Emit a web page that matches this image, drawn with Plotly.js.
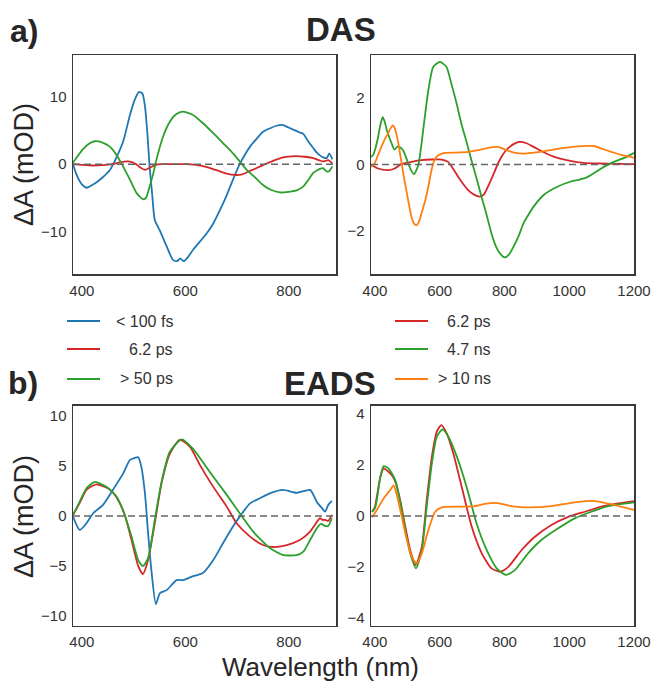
<!DOCTYPE html>
<html>
<head>
<meta charset="utf-8">
<script src="https://cdn.plot.ly/plotly-3.0.1.min.js"></script>
<style>html,body{margin:0;padding:0;background:#fff;}#plot{width:651px;height:685px;}</style>
</head>
<body>
<div id="plot"></div>
<script>
// ---------- DATA ----------
// DAS, left panel
const dasBlueX = [383,390,400,410,420,430,441,454,467,480,493,502,510,517,522,527,531,536,541,551,564,576,584,590,597,605,615,628,641,654,667,680,692,705,715,725,738,750,763,776,789,800,810,821,828,834,840,847,853,860,866,873,878,884];
const dasBlueY = [0,-1.6,-3.0,-3.5,-3.1,-2.6,-1.9,-0.9,1.0,3.4,7.3,9.5,10.7,10.5,8.6,4.2,-0.4,-4.5,-8.3,-9.9,-12.2,-14.2,-14.4,-14.0,-14.4,-13.8,-12.7,-11.5,-10.3,-8.8,-6.8,-4.6,-2.3,0,1.4,2.6,3.8,4.8,5.3,5.7,5.8,5.4,5.1,4.7,4.5,3.8,3.1,2.4,1.8,1.3,1.0,0.9,1.6,0.7];
const dasRedLX = [383,400,420,440,460,475,490,503,513,522,532,545,560,580,600,620,640,660,680,695,710,725,740,757,773,789,805,815,830,847,858,866,876,884];
const dasRedLY = [0,-0.1,-0.2,-0.15,0,0.3,0.4,0.1,-0.5,-0.85,-0.5,-0.05,0,0,0,-0.1,-0.4,-0.9,-1.4,-1.6,-1.5,-1.0,-0.5,0.1,0.6,1.0,1.15,1.2,1.1,0.9,0.6,0.4,0.6,0.1];
const dasGreenLX = [383,392,402,413,425,440,454,465,473,483,493,506,518,524,531,538,544,557,570,582,595,615,635,654,673,692,705,718,735,750,765,783,800,815,828,838,847,855,860,866,873,878,884];
const dasGreenLY = [0.2,1.2,2.2,3.0,3.4,3.2,2.6,1.6,0.6,-0.8,-2.3,-4.3,-5.2,-5.0,-3.3,-1.4,0.6,4.1,6.3,7.4,7.8,7.3,6.0,4.6,3.1,1.6,0.4,-0.8,-2.0,-3.1,-3.8,-4.2,-4.1,-3.9,-3.3,-2.3,-1.3,-0.9,-0.7,-0.6,-1.1,-1.0,-0.35];
// DAS, right panel
const dasRedRX = [387,410,440,461,481,513,544,575,606,626,641,657,672,688,705,724,737,749,765,780,792,805,816,831,847,868,890,915,941,967,992,1043,1095,1150,1200];
const dasRedRY = [0,-0.12,-0.17,-0.12,0.01,0.08,0.13,0.15,0.15,0.08,-0.12,-0.37,-0.58,-0.77,-0.9,-0.97,-0.9,-0.67,-0.32,0.03,0.25,0.43,0.53,0.63,0.68,0.64,0.53,0.4,0.28,0.19,0.13,0.05,0.03,0.02,0.01];
const dasGreenRX = [387,394,402,410,417,424,430,437,445,452,460,472,487,503,513,521,534,544,554,565,580,601,621,636,652,667,683,698,714,729,745,760,773,786,801,815,828,844,859,875,890,921,963,1003,1030,1054,1075,1095,1136,1177,1200];
const dasGreenRY = [0.23,0.28,0.5,0.83,1.2,1.43,1.3,1.03,0.8,0.63,0.45,0.55,0.43,0.03,-0.2,-0.29,-0.02,0.63,1.43,2.23,2.94,3.09,2.94,2.44,1.85,1.23,0.68,0.13,-0.42,-0.97,-1.52,-2.08,-2.45,-2.68,-2.8,-2.7,-2.48,-2.15,-1.77,-1.5,-1.27,-0.92,-0.67,-0.52,-0.46,-0.39,-0.27,-0.14,0.07,0.23,0.35];
const dasOrangeX = [387,399,410,420,430,440,448,455,460,466,473,481,489,497,505,513,521,529,537,544,555,565,572,580,588,596,616,650,688,719,750,776,790,807,830,859,885,910,950,992,1054,1080,1105,1130,1156,1180,1200];
const dasOrangeY = [-0.07,0.03,0.3,0.53,0.75,0.93,1.08,1.18,1.12,0.93,0.6,0.13,-0.35,-0.77,-1.2,-1.58,-1.78,-1.83,-1.7,-1.47,-1.1,-0.67,-0.3,0.03,0.2,0.28,0.35,0.36,0.38,0.43,0.5,0.53,0.5,0.43,0.36,0.33,0.35,0.38,0.45,0.51,0.56,0.55,0.46,0.38,0.3,0.25,0.2];
// EADS, left panel
const eadsBlueX = [383,396,409,422,441,460,480,493,503,509,515,522,528,535,543,551,564,583,596,615,634,654,673,692,705,725,744,763,789,815,841,854,862,870,876,883];
const eadsBlueY = [-0.07,-1.4,-0.73,0.27,1.1,2.6,4.25,5.6,5.8,5.85,4.9,2.26,-1.7,-5.7,-8.8,-7.7,-7.4,-6.4,-6.4,-6.0,-5.7,-4.4,-2.7,-1.06,-0.07,1.26,1.76,2.26,2.6,2.3,2.6,1.4,0.9,0.43,1.1,1.5];
const eadsRedLX = [383,396,409,428,454,470,483,496,509,518,528,541,554,570,589,609,628,654,680,699,725,750,770,796,821,841,850,860,865,870,876,883];
const eadsRedLY = [0.1,1.3,2.6,3.15,2.65,1.6,0.1,-2.4,-5.0,-5.8,-4.4,-0.7,3.26,6.2,7.6,6.9,5.1,2.9,0.93,-0.73,-2.06,-2.9,-3.1,-2.9,-2.4,-1.56,-0.9,-0.23,-0.4,-0.4,-0.5,0.1];
const eadsGreenLX = [383,396,409,425,448,467,483,496,509,518,528,541,554,570,593,615,647,680,705,731,763,789,815,828,841,854,862,870,876,883];
const eadsGreenLY = [0.1,1.43,2.76,3.4,2.9,1.93,0.1,-2.06,-4.4,-5.0,-4.2,-0.4,3.4,6.4,7.65,6.7,4.4,2.1,0.27,-1.56,-3.2,-3.9,-3.9,-3.55,-2.4,-1.23,-0.8,-1.0,-1.0,-0.23];
// EADS, right panel
const eadsRedRX = [391,400,406,417,427,442,455,463,478,494,509,526,545,560,576,591,605,622,642,668,699,730,760,786,812,853,894,945,997,1048,1099,1151,1200];
const eadsRedRY = [0.17,0.35,0.76,1.54,1.87,1.74,1.55,1.35,0.63,-0.42,-1.33,-1.92,-1.2,0.63,2.33,3.3,3.57,3.24,2.46,1.15,-0.42,-1.46,-2.05,-2.18,-1.99,-1.33,-0.81,-0.35,-0.03,0.17,0.37,0.5,0.59];
const eadsGreenRX = [391,400,406,417,427,442,463,478,494,509,527,545,560,576,591,609,627,653,683,714,745,776,804,832,873,914,966,1017,1068,1120,1200];
const eadsGreenRY = [0.17,0.3,0.63,1.54,1.96,1.87,1.41,0.56,-0.55,-1.46,-2.05,-1.33,0.37,2.07,3.11,3.4,3.11,2.33,1.15,-0.29,-1.33,-2.05,-2.31,-2.12,-1.46,-0.94,-0.48,-0.09,0.17,0.39,0.54];
const eadsOrangeX = [391,406,427,447,458,468,483,499,514,529,545,565,586,606,668,709,740,771,795,822,873,945,1017,1079,1141,1200];
const eadsOrangeY = [-0.05,0.24,0.69,1.02,1.2,0.82,-0.03,-0.94,-1.6,-1.86,-1.46,-0.55,0.17,0.34,0.37,0.39,0.48,0.52,0.47,0.39,0.34,0.39,0.54,0.59,0.43,0.24];

const legendLeft = ['< 100 fs', '6.2 ps', '> 50 ps'];
const legendRight = ['6.2 ps', '4.7 ns', '> 10 ns'];
const xTicksLeft = [400, 600, 800];
const xTicksRight = [400, 600, 800, 1000, 1200];

// ---------- STYLE ----------
const C = {blue:'#1f77b4', orange:'#ff7f0e', green:'#2ca02c', red:'#d62728'};
const W = 651, H = 685;
const FONT = 'Liberation Sans, Arial, Helvetica, sans-serif';
const px = v => v / W;
const py = v => 1 - v / H;

function tr(x, y, color, xa, ya, name) {
  return {x: x, y: y, type: 'scatter', mode: 'lines', name: name,
    line: {color: color, width: 1.8, shape: 'spline', smoothing: 0.6},
    xaxis: xa, yaxis: ya, showlegend: false, hoverinfo: 'skip'};
}

const data = [
  tr(dasBlueX, dasBlueY, C.blue, 'x', 'y', '< 100 fs'),
  tr(dasRedLX, dasRedLY, C.red, 'x', 'y', '6.2 ps'),
  tr(dasGreenLX, dasGreenLY, C.green, 'x', 'y', '> 50 ps'),
  tr(dasRedRX, dasRedRY, C.red, 'x2', 'y2', '6.2 ps'),
  tr(dasGreenRX, dasGreenRY, C.green, 'x2', 'y2', '4.7 ns'),
  tr(dasOrangeX, dasOrangeY, C.orange, 'x2', 'y2', '> 10 ns'),
  tr(eadsBlueX, eadsBlueY, C.blue, 'x3', 'y3', '< 100 fs'),
  tr(eadsRedLX, eadsRedLY, C.red, 'x3', 'y3', '6.2 ps'),
  tr(eadsGreenLX, eadsGreenLY, C.green, 'x3', 'y3', '> 50 ps'),
  tr(eadsRedRX, eadsRedRY, C.red, 'x4', 'y4', '6.2 ps'),
  tr(eadsGreenRX, eadsGreenRY, C.green, 'x4', 'y4', '4.7 ns'),
  tr(eadsOrangeX, eadsOrangeY, C.orange, 'x4', 'y4', '> 10 ns')
];

function ax(domain, range, tickvals, anchor) {
  return {domain: domain, range: range, tickvals: tickvals, anchor: anchor,
    showline: true, mirror: true, linecolor: '#3a3a3a', linewidth: 1.5,
    showgrid: false, zeroline: false, ticks: '', ticklabelstandoff: 2,
    tickfont: {family: FONT, size: 15, color: '#333'}};
}

const dxL = [px(73), px(336)], dxR = [px(371), px(634)];
const dyT = [py(274), py(55)], dyB = [py(625.7), py(405.7)];

const layout = {
  width: W, height: H,
  margin: {l: 0, r: 0, t: 0, b: 0},
  paper_bgcolor: '#fff', plot_bgcolor: '#fff',
  showlegend: false,
  xaxis: ax(dxL, [383, 891], xTicksLeft, 'y'),
  yaxis: ax(dyT, [-16.3, 16.2], [-10, 0, 10], 'x'),
  xaxis2: ax(dxR, [388, 1200], xTicksRight, 'y2'),
  yaxis2: ax(dyT, [-3.3, 3.3], [-2, 0, 2], 'x2'),
  xaxis3: ax(dxL, [383, 891], xTicksLeft, 'y3'),
  yaxis3: ax(dyB, [-10.95, 11], [-10, -5, 0, 5, 10], 'x3'),
  xaxis4: ax(dxR, [388, 1200], xTicksRight, 'y4'),
  yaxis4: ax(dyB, [-4.3, 4.33], [-4, -2, 0, 2, 4], 'x4'),
  shapes: [],
  annotations: []
};

// zero lines
[['x','y'],['x2','y2'],['x3','y3'],['x4','y4']].forEach(function(p){
  layout.shapes.push({type:'line', xref: p[0] + ' domain', yref: p[1], x0: 0, x1: 1, y0: 0, y1: 0,
    line: {color: '#666', width: 1.5, dash: '7px,4px'}, layer: 'above'});
});

// legend entries (drawn as lines + text)
const legColL = [C.blue, C.red, C.green];
const legColR = [C.red, C.green, C.orange];
const legY = [321, 349, 379];
legY.forEach(function(yv, i){
  layout.shapes.push({type:'line', xref:'paper', yref:'paper', x0: px(67), x1: px(100), y0: py(yv), y1: py(yv),
    line: {color: legColL[i], width: 1.8}});
  layout.shapes.push({type:'line', xref:'paper', yref:'paper', x0: px(395), x1: px(428), y0: py(yv), y1: py(yv),
    line: {color: legColR[i], width: 1.8}});
  layout.annotations.push({xref:'paper', yref:'paper', x: px(175), y: py(yv), xanchor:'right', yanchor:'middle',
    text: legendLeft[i], showarrow: false, font: {family: FONT, size: 16, color: '#333'}});
  layout.annotations.push({xref:'paper', yref:'paper', x: px(493), y: py(yv), xanchor:'right', yanchor:'middle',
    text: legendRight[i], showarrow: false, font: {family: FONT, size: 16, color: '#333'}});
});

// titles and labels
const titleFont = {family: FONT, size: 33, color: '#262626'};
layout.annotations.push(
  {xref:'paper', yref:'paper', x: px(341), y: py(30), xanchor:'center', yanchor:'middle', text:'<b>DAS</b>', showarrow:false, font: titleFont},
  {xref:'paper', yref:'paper', x: px(8), y: py(31), xanchor:'left', yanchor:'middle', text:'<b>a)</b>', showarrow:false, font: {family: FONT, size: 32, color: '#262626'}},
  {xref:'paper', yref:'paper', x: px(330), y: py(383), xanchor:'center', yanchor:'middle', text:'<b>EADS</b>', showarrow:false, font: titleFont},
  {xref:'paper', yref:'paper', x: px(6), y: py(383), xanchor:'left', yanchor:'middle', text:'<b>b)</b>', showarrow:false, font: {family: FONT, size: 32, color: '#262626'}},
  {xref:'paper', yref:'paper', x: px(24), y: py(165), xanchor:'center', yanchor:'middle', textangle: -90, text:'ΔA (mOD)', showarrow:false, font: {family: FONT, size: 27, color: '#262626'}},
  {xref:'paper', yref:'paper', x: px(24), y: py(517), xanchor:'center', yanchor:'middle', textangle: -90, text:'ΔA (mOD)', showarrow:false, font: {family: FONT, size: 27, color: '#262626'}},
  {xref:'paper', yref:'paper', x: px(320), y: py(684), xanchor:'center', yanchor:'bottom', text:'Wavelength (nm)', showarrow:false, font: {family: FONT, size: 26, color: '#262626'}}
);

Plotly.newPlot('plot', data, layout, {staticPlot: true, displayModeBar: false});
</script>
</body>
</html>
